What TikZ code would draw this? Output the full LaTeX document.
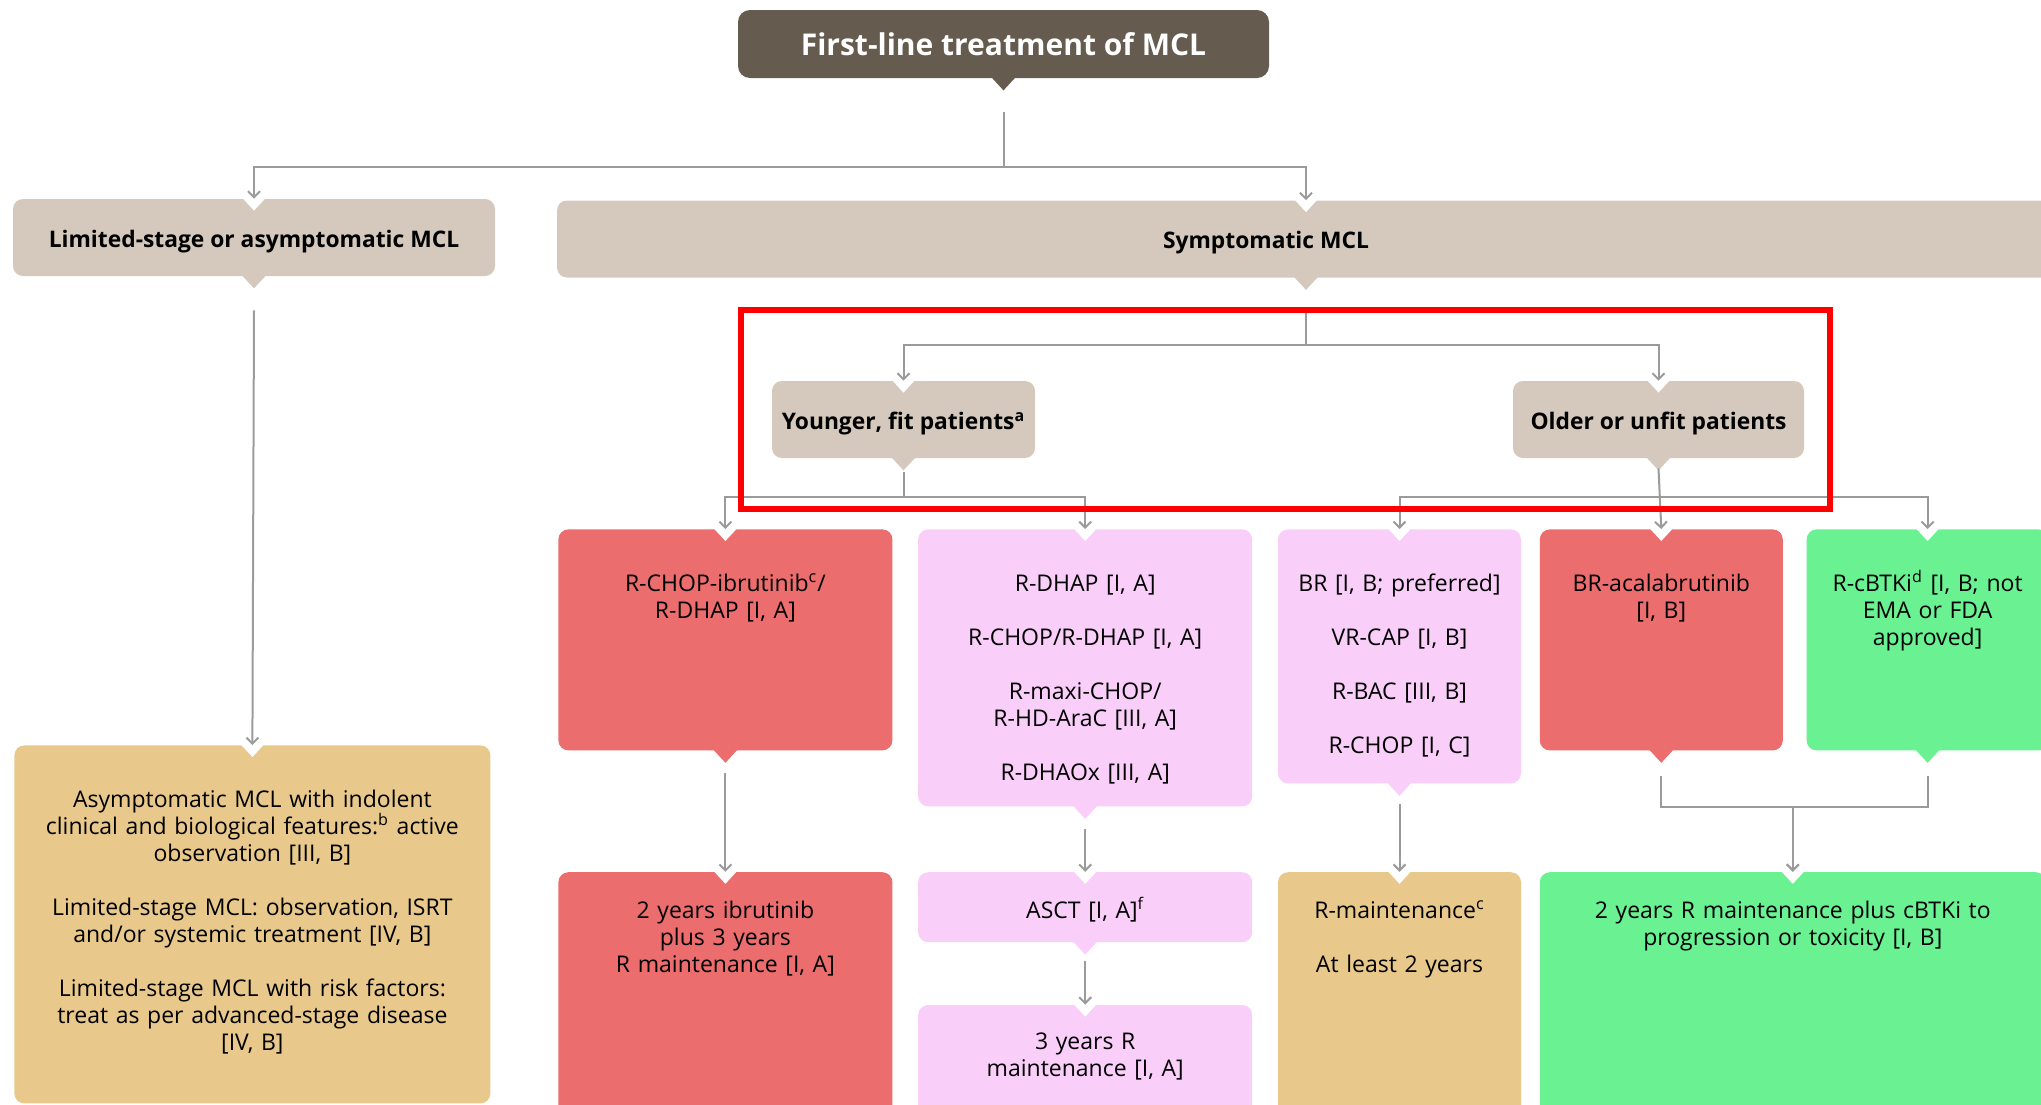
\documentclass[tikz,border=0pt]{standalone}
\usepackage{fontspec}
\setmainfont{Open Sans}
\usetikzlibrary{arrows.meta,positioning}

\definecolor{titlebrown}{HTML}{655B4F}
\definecolor{hdrtan}{HTML}{D4C9BC}
\definecolor{optred}{HTML}{EB6D6D}
\definecolor{optpink}{HTML}{F9CEF9}
\definecolor{optgreen}{HTML}{6AF292}
\definecolor{optgold}{HTML}{E8C98B}
\definecolor{linkgray}{HTML}{9B9B9B}

\newcommand{\gap}{\\[13.5pt]}

\begin{document}
\begin{tikzpicture}[x=0.5pt, y=-0.5pt,
  >={Straight Barb[length=3pt,width=6pt]},
  box/.style={rounded corners=5pt, inner sep=0pt, align=center},
  hdr/.style={box, fill=hdrtan, minimum height=38.5pt,
    text height=10pt, text depth=0.5pt,
    font=\fontsize{11.4}{13}\selectfont\bfseries},
  cell/.style={box, anchor=north west, text height=31pt,
    font=\fontsize{11.5}{13.5}\selectfont},
  conn/.style={draw=linkgray, line width=1pt},
  arr/.style={conn, ->},
  hilite/.style={draw=red, line width=3pt}
]
\path[use as bounding box] (0,0) rectangle (2041,1104);
\clip (0,0) rectangle (2041,1104);

% headers
\node[box, fill=titlebrown, text=white, rounded corners=6pt,
  minimum width=265.5pt, minimum height=34pt,
  font=\fontsize{15}{18}\selectfont\bfseries] (title) at (1003.5,44)
{First-line treatment of MCL};
\node[hdr, minimum width=241pt] (lim) at (254,237.5) {Limited-stage or asymptomatic MCL};
\node[hdr, minimum width=749pt] (sym) at (1306,239) {\hspace*{-40pt}Symptomatic MCL};
\node[hdr, minimum width=131.5pt] (young) at (903.5,419.5) {Younger, fit patients\textsuperscript{a}};
\node[hdr, minimum width=145.5pt] (older) at (1658.5,419.5) {Older or unfit patients};

% first options
\node[cell, fill=optred, text width=167pt, text depth=79.5pt] (ibr) at (558,529)
{R-CHOP-ibrutinib\textsuperscript{c}/\\R-DHAP [I, A]};
\node[cell, fill=optpink, text width=167pt, text depth=107.5pt,
  right=12.5pt of ibr.north east, anchor=north west] (dhap)
{R-DHAP [I, A]\gap R-CHOP/R-DHAP [I, A]\gap R-maxi-CHOP/\\R-HD-AraC [III, A]\gap R-DHAOx [III, A]};
\node[cell, fill=optpink, text width=121.5pt, text depth=96pt,
  right=12.5pt of dhap.north east, anchor=north west] (br)
{BR [I, B; preferred]\gap VR-CAP [I, B]\gap R-BAC [III, B]\gap R-CHOP [I, C]};
\node[cell, fill=optred, text width=121.5pt, text depth=79.5pt,
  right=9pt of br.north east, anchor=north west] (acala)
{BR-acalabrutinib\\{}[I, B]};
\node[cell, fill=optgreen, text width=121pt, text depth=79.5pt,
  right=11.5pt of acala.north east, anchor=north west] (btki)
{R-cBTKi\textsuperscript{d} [I, B; not\\EMA or FDA\\approved]};

\node[cell, fill=optgold, text width=238pt, text depth=148pt] (lim2) at (14,745)
{Asymptomatic MCL with indolent\\clinical and biological features:\textsuperscript{b} active\\observation [III, B]\gap
Limited-stage MCL: observation, ISRT\\and/or systemic treatment [IV, B]\gap
Limited-stage MCL with risk factors:\\treat as per advanced-stage disease\\{}[IV, B]};

% maintenance
\node[cell, fill=optred, text width=167pt, text height=23pt, text depth=107pt,
  below=60.5pt of ibr] (ibr2) {2 years ibrutinib\\plus 3 years\\R maintenance [I, A]};
\node[cell, fill=optpink, text width=167pt, text height=23pt, text depth=12pt,
  below=32.5pt of dhap] (asct) {ASCT [I, A]\textsuperscript{f}};
\node[cell, fill=optpink, text width=167pt, text height=22pt, text depth=38pt,
  below=31pt of asct] (rm3) {3 years R\\maintenance [I, A]};
\node[cell, fill=optgold, text width=121.5pt, text height=23pt, text depth=107pt,
  below=44pt of br] (rmaint) {R-maintenance\textsuperscript{c}\gap At least 2 years};
\node[cell, fill=optgreen, text width=253pt, text height=23pt, text depth=107pt,
  below=60.5pt of acala.south west, anchor=north west] (combo)
{2 years R maintenance plus cBTKi to\\progression or toxicity [I, B]};

% pointers and notches
\foreach \n/\c in {title/titlebrown, lim/hdrtan, sym/hdrtan, young/hdrtan, older/hdrtan,
  ibr/optred, dhap/optpink, br/optpink, acala/optred, btki/optgreen, asct/optpink}
  \fill[\c] ([shift={(-6pt,0.5pt)}]\n.south) -- ([shift={(6pt,0.5pt)}]\n.south)
    -- ([yshift=-6pt]\n.south) -- cycle;
\foreach \n in {lim, sym, young, older, ibr, dhap, br, acala, btki,
  lim2, ibr2, asct, rm3, rmaint, combo}
  \fill[white] ([shift={(-6pt,0.5pt)}]\n.north) -- ([shift={(6pt,0.5pt)}]\n.north)
    -- ([yshift=-6pt]\n.north) -- cycle;

% connectors
\draw[arr] ([yshift=-17pt]title.south) -- ([yshift=-44.5pt]title.south) -| (lim.north);
\draw[arr] ([yshift=-44.5pt]title.south) -| (sym.north);
\draw[arr] ([yshift=-17pt]lim.south) -- (lim2.north);
\draw[arr] ([yshift=-15.5pt]sym.south) -- ([yshift=-33.5pt]sym.south) -| (young.north);
\draw[arr] ([yshift=-33.5pt]sym.south) -| (older.north);
\draw[arr] ([yshift=-7pt]young.south) -- ([yshift=-19.5pt]young.south) -| (ibr.north);
\draw[arr] ([yshift=-19.5pt]young.south) -| (dhap.north);
\draw[arr] ([yshift=-5pt]older.south) -- (acala.north);
\draw[arr] ([yshift=-19.5pt]older.south) -| (br.north);
\draw[arr] ([yshift=-19.5pt]older.south) -| (btki.north);
\draw[arr] ([yshift=-11pt]ibr.south) -- (ibr2.north);
\draw[arr] ([yshift=-11pt]dhap.south) -- (asct.north);
\draw[arr] ([yshift=-9pt]asct.south) -- (rm3.north);
\draw[arr] ([yshift=-10pt]br.south) -- (rmaint.north);
\draw[arr] ([yshift=-12.5pt]acala.south) -- ([yshift=-28pt]acala.south) -| (combo.north);
\draw[arr] ([yshift=-12.5pt]btki.south) -- ([yshift=-28pt]btki.south) -| (combo.north);

% highlight
\draw[hilite] (741,310) rectangle (1830,509);
\end{tikzpicture}
\end{document}
